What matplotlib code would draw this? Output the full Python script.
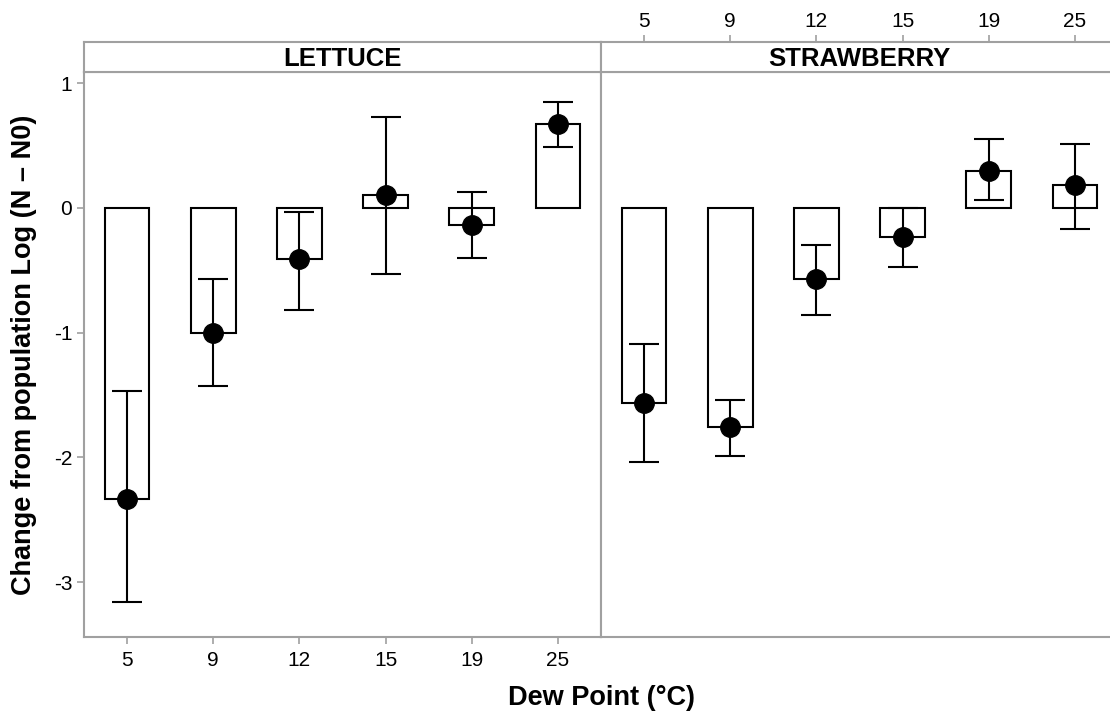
import numpy as np
import matplotlib.pyplot as plt
from matplotlib.ticker import FuncFormatter

plt.rcParams['font.family'] = ['Liberation Sans', 'DejaVu Sans']
plt.rcParams['axes.unicode_minus'] = False

dew_points = ['5', '9', '12', '15', '19', '25']

lettuce_mean = [-2.33, -1.00, -0.41, 0.10, -0.14, 0.67]
lettuce_lo = [-3.16, -1.43, -0.82, -0.53, -0.40, 0.49]
lettuce_hi = [-1.47, -0.57, -0.03, 0.73, 0.13, 0.85]

straw_mean = [-1.56, -1.76, -0.57, -0.235, 0.30, 0.185]
straw_lo = [-2.04, -1.99, -0.855, -0.47, 0.067, -0.168]
straw_hi = [-1.09, -1.54, -0.30, 0.0, 0.55, 0.515]

panels = [('LETTUCE', lettuce_mean, lettuce_lo, lettuce_hi),
          ('STRAWBERRY', straw_mean, straw_lo, straw_hi)]

W, H = 1110, 713
fig = plt.figure(figsize=(W / 100, H / 100), dpi=100)

grey = '#a0a0a0'
x0 = [84, 601]
pw = 517
top, bottom = 72, 637
strip_top = 42

x = np.arange(len(dew_points))
for i, (name, mean, lo, hi) in enumerate(panels):
    ax = fig.add_axes([x0[i] / W, 1 - bottom / H, pw / W, (bottom - top) / H])
    mean = np.array(mean)
    err = [mean - np.array(lo), np.array(hi) - mean]
    ax.bar(x, mean, width=0.52, color='white', edgecolor='black', linewidth=1.5, zorder=2)
    ax.errorbar(x, mean, yerr=err, fmt='o', color='black', ms=14, elinewidth=1.5,
                capsize=11, capthick=1.5, zorder=3)
    ax.set_xlim(-0.5, 5.5)
    ax.set_ylim(-3.44, 1.09)
    for s in ax.spines.values():
        s.set_color(grey)
        s.set_linewidth(1.5)
    ax.tick_params(colors=grey, labelcolor='black', length=5, width=1.2, labelsize=15)
    ax.tick_params(axis='x', pad=5)
    ax.set_yticks([-3, -2, -1, 0, 1])
    ax.yaxis.set_major_formatter(FuncFormatter(lambda v, p: '%d' % v))
    if i == 0:
        ax.set_xticks(x, dew_points)
        ax.set_ylabel('Change from population Log (N \u2013 N0)', fontsize=19.5,
                      fontweight='bold', labelpad=12)
    else:
        ax.set_xticks([])
        ax.set_yticks([])

    # facet strip
    sax = fig.add_axes([x0[i] / W, 1 - top / H, pw / W, (top - strip_top) / H])
    sax.set_xlim(-0.5, 5.5)
    sax.set_ylim(0, 1)
    for s in sax.spines.values():
        s.set_color(grey)
        s.set_linewidth(1.5)
    sax.set_yticks([])
    sax.text(2.5, 0.45, name, ha='center', va='center', fontsize=18.5, fontweight='bold')
    if i == 1:
        sax.xaxis.tick_top()
        sax.set_xticks(x, dew_points)
        sax.tick_params(colors=grey, labelcolor='black', length=5, width=1.2,
                        labelsize=15, pad=3)
    else:
        sax.set_xticks([])

fig.text(601 / W, 1 - 698 / H, 'Dew Point (\u00b0C)', ha='center', va='center',
         fontsize=19.5, fontweight='bold')

fig.savefig('out.png', dpi=100)
